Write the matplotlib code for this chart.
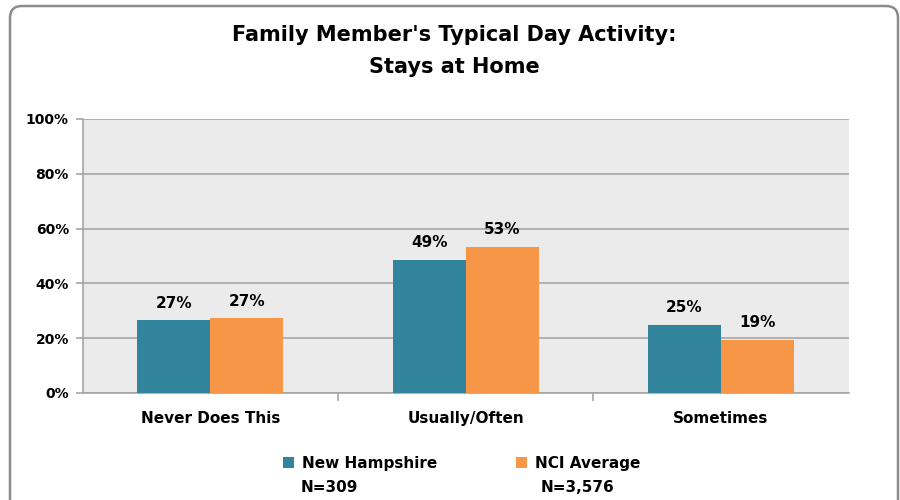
import matplotlib.pyplot as plt
import numpy as np
from matplotlib.patches import FancyBboxPatch

categories = ["Never Does This", "Usually/Often", "Sometimes"]
new_hampshire = [26.6, 48.6, 24.9]
nci_average = [27.2, 53.4, 19.4]
series_names = ["New Hampshire", "NCI Average"]
series_n = ["N=309", "N=3,576"]
colors = ["#31849B", "#F79646"]

plt.rcParams["font.family"] = "DejaVu Sans"
plt.rcParams["font.weight"] = "bold"

fig = plt.figure(figsize=(9, 5), dpi=100)
ax = fig.add_axes([0.092, 0.214, 0.851, 0.548])

# rounded frame around the whole chart (pixel coordinates)
frame = FancyBboxPatch((10, -30), 888, 524, boxstyle="round,pad=0,rounding_size=12",
                       transform=None, facecolor="none", edgecolor="#8C8C8C",
                       linewidth=1.8, zorder=0)
fig.patches.append(frame)

x = np.arange(len(categories))
width = 0.286
bars1 = ax.bar(x - width / 2, new_hampshire, width, color=colors[0], zorder=3, label=series_names[0])
bars2 = ax.bar(x + width / 2, nci_average, width, color=colors[1], zorder=3, label=series_names[1])

for bars in (bars1, bars2):
    for b in bars:
        h = b.get_height()
        ax.text(b.get_x() + b.get_width() / 2, h + 3.5, f"{h:.0f}%", ha="center", va="bottom",
                fontsize=11, fontweight="bold")

ax.set_xlim(-0.5, 2.5)
ax.set_ylim(0, 100)
ax.set_facecolor("#EBEBEB")
ax.set_yticks(range(0, 101, 20))
ax.set_yticklabels([f"{v}%" for v in range(0, 101, 20)], fontsize=10, fontweight="bold")
ax.yaxis.grid(True, color="#A6A6A6", linewidth=1.2, zorder=0)
ax.set_axisbelow(True)

ax.set_xticks(x)
ax.set_xticklabels(categories, fontsize=11, fontweight="bold")
ax.tick_params(axis="x", length=0, pad=13)
ax.set_xticks([0.5, 1.5], minor=True)
ax.tick_params(axis="x", which="minor", length=6, color="#A6A6A6", width=1.2)
ax.tick_params(axis="y", length=5, color="#A6A6A6", width=1.2, pad=5)

for side in ["top", "right"]:
    ax.spines[side].set_visible(False)
for side in ["left", "bottom"]:
    ax.spines[side].set_color("#A6A6A6")
    ax.spines[side].set_linewidth(1.2)

fig.text(0.505, 0.898, "Family Member's Typical Day Activity:\nStays at Home", ha="center", va="center",
         fontsize=15, fontweight="bold", linespacing=1.7)

leg = fig.legend(handles=[bars1, bars2], loc="center", bbox_to_anchor=(0.513, 0.073), ncol=2,
                 frameon=False, fontsize=11, handlelength=0.7, handleheight=0.7,
                 handletextpad=0.5, columnspacing=5.2)
for t in leg.get_texts():
    t.set_fontweight("bold")

fig.text(0.334, 0.026, series_n[0], ha="left", va="center", fontsize=11, fontweight="bold")
fig.text(0.601, 0.026, series_n[1], ha="left", va="center", fontsize=11, fontweight="bold")

fig.savefig("out.png", dpi=100)
